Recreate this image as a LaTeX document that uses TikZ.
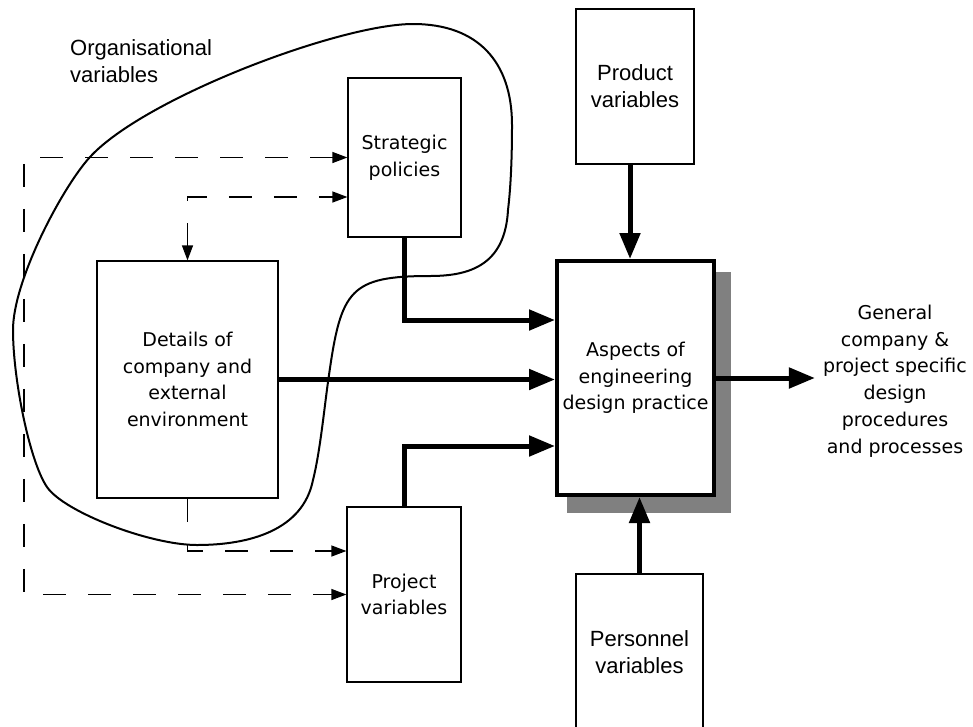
\documentclass[tikz,border=0pt]{standalone}
\usepackage{fontspec}
\setmainfont{Liberation Sans}
\newfontfamily\humfont{DejaVu Sans}
\usetikzlibrary{arrows.meta,calc,backgrounds}
\begin{document}
\begin{tikzpicture}[x=1pt,y=-1pt,
  box/.style={draw, line width=1.2pt, fill=white, inner sep=0pt, align=center},
  arialtext/.style={font=\fontsize{22}{27}\selectfont},
  humtext/.style={font=\humfont\fontsize{19}{26.7}\selectfont},
  thickarrow/.style={line width=5pt, -{Triangle[length=26pt,width=20pt]}},
  smalltip/.tip={Triangle[length=15pt,width=11pt]},
  dasharrow/.style={line width=1.2pt, dash pattern=on 23pt off 22pt, -smalltip},
  blob/.style={line width=2pt, line join=round}
]
\useasboundingbox (0,0) rectangle (973,726);
\clip (0,0) rectangle (973,726);

% boxes
\node[box, humtext, minimum width=113, minimum height=159] (strat) at (404.5,157.5) {Strategic\\policies};
\node[box, humtext, minimum width=181, minimum height=237] (details) at (187.5,379.5) {Details of\\company and\\external\\environment};
\node[box, humtext, minimum width=114, minimum height=175] (proj) at (404,594.5) {Project\\variables};
\node[box, arialtext, minimum width=127, minimum height=157] (pers) at (639.5,652.5) {Personnel\\variables};
\node[box, arialtext, minimum width=118, minimum height=155] (prod) at (635,86.5) {Product\\variables};
\node[box, humtext, line width=4pt, minimum width=157, minimum height=234] (aspects) at (635.5,378) {Aspects of\\engineering\\design practice};

% free labels
\node[humtext, align=center, inner sep=0pt] (out) at (895,381) {General\\company \&\\project specific\\design\\procedures\\and processes};
\node[arialtext, align=left, inner sep=0pt, anchor=west] (org) at (70,61.5) {Organisational\\variables};

% page background and drop shadow of the central box
\begin{scope}[on background layer]
  \fill[white] (0,0) rectangle (973,726);
  \fill[black!50] ($(aspects.north west)+(12,13)$) rectangle ($(aspects.south east)+(15,16)$);
\end{scope}

% boundary of the organisational variables
\draw[blob] (413,24) .. controls (478,24) and (512,62) .. (512,125)
  .. controls (512,155) and (511,185) .. (508,210)
  .. controls (505,265) and (470,276) .. (430,276)
  .. controls (350,276) and (341,290) .. (329,375)
  .. controls (324.5,405) and (320.5,450) .. (313,480)
  .. controls (303,530) and (250,545) .. (197,545)
  .. controls (150,545) and (64,512) .. (47,487)
  .. controls (30,462.4) and (13,380) .. (13,330)
  .. controls (13,280) and (62.8,186.6) .. (90,157)
  .. controls (144.4,97.8) and (340,24) .. (413,24) -- cycle;

% main inputs and output
\coordinate (prodout) at ([xshift=-5pt]prod.south);
\coordinate (outin) at ([xshift=-8pt]out.west);
\draw[thickarrow] (strat.south) |- (aspects.west |- 0,320);
\draw[thickarrow] (details.east) -- (details.east -| aspects.west);
\draw[thickarrow] (proj.north) |- (aspects.west |- 0,446);
\draw[thickarrow] (prodout) -- (prodout |- aspects.north);
\draw[thickarrow] (pers.north) -- (pers.north |- aspects.south);
\draw[thickarrow] (aspects.east) -- (outin |- aspects.east);

% dashed influences
\draw[dasharrow, smalltip-smalltip] (details.north) |- (strat.west |- 0,197);
\draw[dasharrow] (details.south) |- (proj.west |- 0,551);
\draw[dasharrow, smalltip-smalltip] (strat.west) -| (24,0 |- proj.west) -- (proj.west);
\end{tikzpicture}
\end{document}
